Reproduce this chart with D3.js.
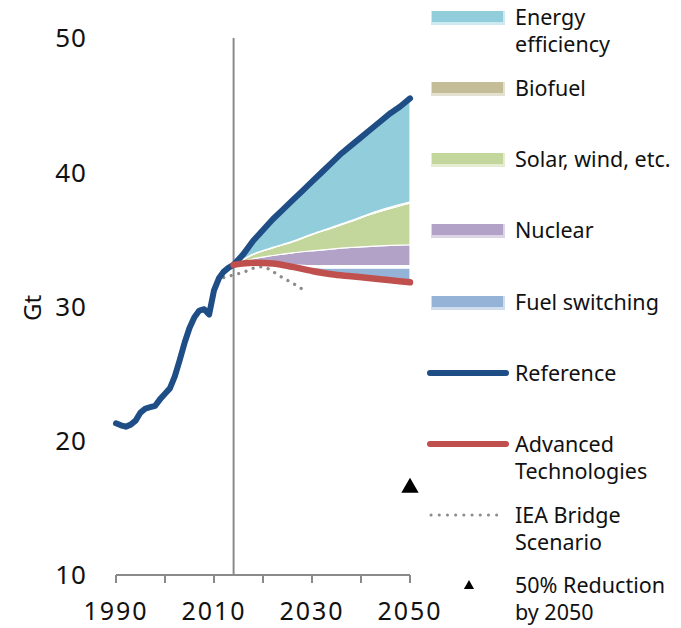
<!DOCTYPE html>
<html lang="en">
<head>
<meta charset="UTF-8">
<title>Emissions scenarios</title>
<script src="https://d3js.org/d3.v7.min.js"></script>
<style>
    body { margin: 0; background: #fff; }
    svg text { font-family: "Noto Sans", "Open Sans", sans-serif; fill: #111; }
    .tick-label { font-size: 26px; }
    .legend text { font-size: 21.5px; }
</style>
</head>
<body>
<script>
    // historical emissions (reference line up to 2014), Gt
    var histYears = d3.range(1990, 2015);
    var histValues = [21.3, 21.15, 21.05, 21.2, 21.5, 22.1, 22.4, 22.5, 22.6, 23.1,
                      23.5, 23.9, 24.8, 26.0, 27.3, 28.4, 29.2, 29.7, 29.8, 29.4,
                      31.2, 32.1, 32.6, 32.9, 33.1];

    // reference projection
    var projYears = [2014, 2016, 2018, 2020, 2022, 2024, 2026, 2028, 2030, 2032,
                     2034, 2036, 2038, 2040, 2042, 2044, 2046, 2048, 2050];
    var projValues = [33.1, 33.9, 34.9, 35.7, 36.5, 37.2, 37.9, 38.6, 39.3, 40.0,
                      40.7, 41.4, 42.0, 42.6, 43.2, 43.8, 44.4, 44.9, 45.5];

    // band boundaries, every 4 years
    var bandYears = [2014, 2018, 2022, 2026, 2030, 2034, 2038, 2042, 2046, 2050];
    var advanced      = [33.1, 33.25, 33.2, 32.95, 32.65, 32.4, 32.25, 32.1, 31.95, 31.8];
    var fuelTop       = [33.1, 33.25, 33.2, 33.0, 32.9, 32.85, 32.85, 32.85, 32.85, 32.85];
    var nuclearBottom = [33.1, 33.25, 33.2, 33.1, 33.05, 33.05, 33.05, 33.05, 33.05, 33.05];
    var nuclearTop    = [33.1, 33.55, 33.8, 34.0, 34.15, 34.28, 34.4, 34.48, 34.55, 34.6];
    var solarTop      = [33.1, 33.88, 34.37, 34.81, 35.35, 35.84, 36.33, 36.87, 37.31, 37.7];
    var biofuelTop    = [33.1, 33.9, 34.4, 34.85, 35.4, 35.9, 36.4, 36.95, 37.4, 37.8];

    // IEA bridge scenario
    var ieaYears = [2012, 2014, 2016, 2018, 2020, 2022, 2024, 2026, 2028, 2029];
    var ieaValues = [32.15, 32.35, 32.55, 32.85, 32.95, 32.6, 32.15, 31.75, 31.3, 31.1];

    // 50% reduction target
    var targetYear = 2050, targetValue = 16.5;
    var splitYear = 2014;

    var xTicks = [1990, 2000, 2010, 2020, 2030, 2040, 2050];
    var xLabels = [1990, 2010, 2030, 2050];
    var yLabels = [10, 20, 30, 40, 50];

    var legendItems = ["Energy|efficiency", "Biofuel", "Solar, wind, etc.", "Nuclear", "Fuel switching",
                       "Reference", "Advanced|Technologies", "IEA Bridge|Scenario", "50% Reduction|by 2050"];

    var colors = {
        efficiency: "#92cddc", biofuel: "#c4bd97", solar: "#c3d69b",
        nuclear: "#b2a2c7", fuel: "#95b3d7", reference: "#1f4e86",
        advanced: "#c0504d", iea: "#8c8c8c"
    };

    var svg = d3.select("body").append("svg")
        .attr("width", 681).attr("height", 628);

    var x = d3.scaleLinear().domain([1990, 2050]).range([116, 410]);
    var y = d3.scaleLinear().domain([10, 50]).range([575, 38]);

    // vertical divider
    svg.append("line")
        .attr("x1", x(splitYear)).attr("x2", x(splitYear))
        .attr("y1", y(50)).attr("y2", y(10))
        .attr("stroke", "#8a8a8a").attr("stroke-width", 2);

    // bands
    var refAt = function (yr) { return projValues[projYears.indexOf(yr)]; };
    var bands = [
        { lo: advanced, hi: fuelTop, color: colors.fuel },
        { lo: nuclearBottom, hi: nuclearTop, color: colors.nuclear },
        { lo: nuclearTop, hi: solarTop, color: colors.solar },
        { lo: solarTop, hi: biofuelTop, color: colors.biofuel },
        { lo: biofuelTop, hi: bandYears.map(refAt), color: colors.efficiency }
    ];
    bands.forEach(function (b) {
        var area = d3.area()
            .x(function (d, i) { return x(bandYears[i]); })
            .y0(function (d, i) { return y(b.lo[i]); })
            .y1(function (d, i) { return y(b.hi[i]); })
            .curve(d3.curveMonotoneX);
        svg.append("path")
            .attr("d", area(bandYears))
            .attr("fill", b.color)
            .attr("stroke", "#fff").attr("stroke-width", 1.2);
    });

    var line = d3.line()
        .x(function (d) { return x(d[0]); })
        .y(function (d) { return y(d[1]); });

    // IEA dotted line
    svg.append("path")
        .attr("d", line.curve(d3.curveMonotoneX)(d3.zip(ieaYears, ieaValues)))
        .attr("fill", "none").attr("stroke", colors.iea)
        .attr("stroke-width", 3.2).attr("stroke-dasharray", "0.1,7.6")
        .attr("stroke-linecap", "round");

    // reference line
    var refData = d3.zip(histYears, histValues).concat(d3.zip(projYears, projValues).slice(1));
    svg.append("path")
        .attr("d", line.curve(d3.curveLinear)(refData))
        .attr("fill", "none").attr("stroke", colors.reference)
        .attr("stroke-width", 6).attr("stroke-linejoin", "round").attr("stroke-linecap", "round");

    // advanced technologies
    svg.append("path")
        .attr("d", line.curve(d3.curveMonotoneX)(d3.zip(bandYears, advanced)))
        .attr("fill", "none").attr("stroke", colors.advanced)
        .attr("stroke-width", 6.5).attr("stroke-linecap", "round");

    // 50% target triangle
    svg.append("path")
        .attr("d", d3.symbol().type(d3.symbolTriangle).size(130)())
        .attr("transform", "translate(" + x(targetYear) + "," + y(targetValue) + ")")
        .attr("fill", "#000");

    // x axis
    svg.append("line")
        .attr("x1", x(1990)).attr("x2", x(2050))
        .attr("y1", y(10)).attr("y2", y(10))
        .attr("stroke", "#8a8a8a").attr("stroke-width", 2);
    svg.selectAll(".xtick").data(xTicks).enter().append("line")
        .attr("x1", function (d) { return x(d); }).attr("x2", function (d) { return x(d); })
        .attr("y1", y(10)).attr("y2", y(10) + 8)
        .attr("stroke", "#8a8a8a").attr("stroke-width", 2);
    svg.selectAll(".xlab").data(xLabels).enter().append("text")
        .attr("class", "tick-label")
        .attr("x", function (d) { return x(d); })
        .attr("y", 620)
        .attr("text-anchor", "middle")
        .style("font-size", "25px")
        .style("letter-spacing", "2px")
        .text(function (d) { return d; });

    // y labels
    svg.selectAll(".ylab").data(yLabels).enter().append("text")
        .attr("class", "tick-label")
        .attr("x", 87)
        .attr("y", function (d) { return y(d); })
        .attr("dy", "0.36em")
        .attr("text-anchor", "end")
        .style("letter-spacing", "1px")
        .text(function (d) { return d; });

    svg.append("text")
        .attr("transform", "translate(32,308) rotate(-90)")
        .attr("dy", "0.36em")
        .attr("text-anchor", "middle")
        .style("font-size", "24px")
        .text("Gt");

    // legend
    var legendY = [17, 88, 159, 230, 302, 373, 444, 515, 585];
    var legend = svg.append("g").attr("class", "legend");
    var swatchColors = [colors.efficiency, colors.biofuel, colors.solar, colors.nuclear, colors.fuel];
    swatchColors.forEach(function (c, i) {
        var cy = legendY[i];
        legend.append("rect")
            .attr("x", 431).attr("y", cy - 6).attr("width", 74).attr("height", 14)
            .attr("fill", d3.interpolateRgb(c, "#fff")(0.55));
        legend.append("rect")
            .attr("x", 432).attr("y", cy - 6).attr("width", 71).attr("height", 11)
            .attr("fill", c);
    });
    legend.append("line")
        .attr("x1", 430).attr("x2", 506).attr("y1", legendY[5]).attr("y2", legendY[5])
        .attr("stroke", colors.reference).attr("stroke-width", 6).attr("stroke-linecap", "round");
    legend.append("line")
        .attr("x1", 430).attr("x2", 506).attr("y1", legendY[6]).attr("y2", legendY[6])
        .attr("stroke", colors.advanced).attr("stroke-width", 6).attr("stroke-linecap", "round");
    legend.append("line")
        .attr("x1", 431).attr("x2", 503).attr("y1", legendY[7]).attr("y2", legendY[7])
        .attr("stroke", colors.iea).attr("stroke-width", 3).attr("stroke-linecap", "round")
        .attr("stroke-dasharray", "0.1,8.1");
    legend.append("path")
        .attr("d", d3.symbol().type(d3.symbolTriangle).size(45)())
        .attr("transform", "translate(469," + (legendY[8] + 1) + ")")
        .attr("fill", "#000");

    legendItems.forEach(function (label, i) {
        var lines = label.split("|");
        var t = legend.append("text")
            .attr("x", 515)
            .attr("y", legendY[i])
            .attr("dy", "0.36em");
        lines.forEach(function (s, j) {
            t.append("tspan").attr("x", 515).attr("dy", j === 0 ? "0.36em" : "27px").text(s);
        });
    });
</script>
</body>
</html>
